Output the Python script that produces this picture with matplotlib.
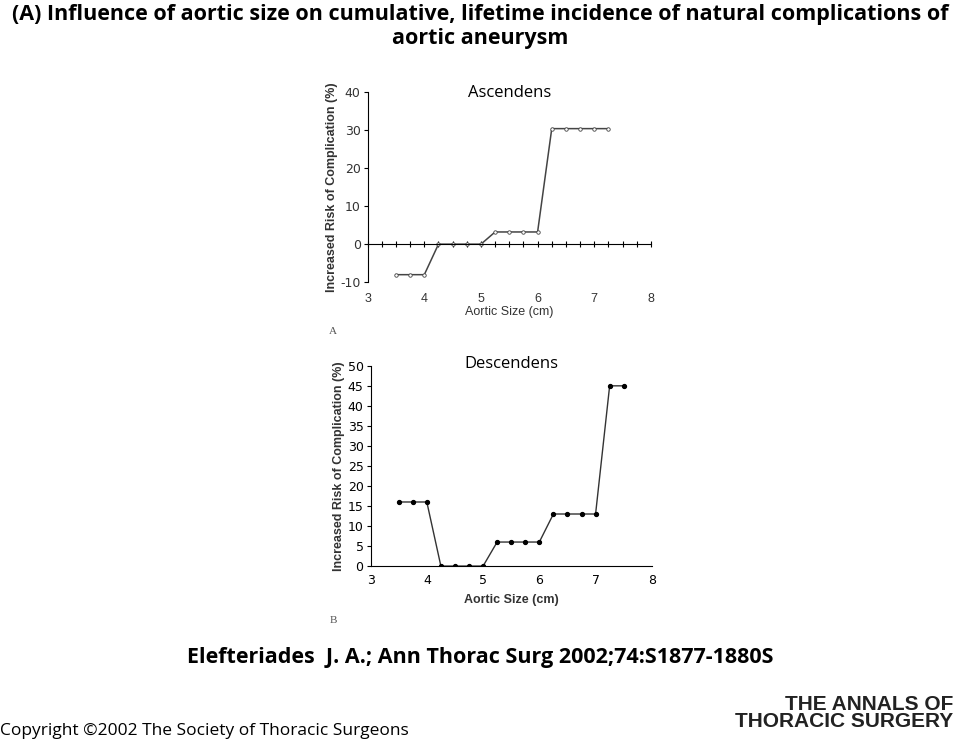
import matplotlib
matplotlib.use("Agg")
import matplotlib.pyplot as plt
import numpy as np

asc_x = [3.5, 3.75, 4.0, 4.25, 4.5, 4.75, 5.0, 5.25, 5.5, 5.75, 6.0, 6.25, 6.5, 6.75, 7.0, 7.25]
asc_y = [-8, -8, -8, 0, 0, 0, 0, 3.2, 3.2, 3.2, 3.2, 30.3, 30.3, 30.3, 30.3, 30.3]
desc_x = [3.5, 3.75, 4.0, 4.25, 4.5, 4.75, 5.0, 5.25, 5.5, 5.75, 6.0, 6.25, 6.5, 6.75, 7.0, 7.25, 7.5]
desc_y = [16, 16, 16, 0, 0, 0, 0, 6, 6, 6, 6, 13, 13, 13, 13, 45, 45]

plt.rcParams["axes.unicode_minus"] = False
fig = plt.figure(figsize=(9.6, 7.39), dpi=100)
fig.text(0.5, 0.995, "(A) Influence of aortic size on cumulative, lifetime incidence of natural complications of\naortic aneurysm",
         ha="center", va="top", fontsize=15.5, fontweight="bold", family="Open Sans", linespacing=1.2)

lab_kw = dict(fontsize=9, fontweight="bold", color="#333333", family="Liberation Sans")

# A
ax = fig.add_axes([0.383, 0.618, 0.295, 0.258])
ax.plot(asc_x, asc_y, color="#444444", lw=1.1, marker="o", ms=2.5, mfc="white", mec="#444444", mew=0.6)
ax.set_xlim(3, 8); ax.set_ylim(-10, 40)
ax.set_yticks([-10, 0, 10, 20, 30, 40])
for s in ["top", "right"]:
    ax.spines[s].set_visible(False)
ax.spines["bottom"].set_position(("data", 0))
ax.set_xticks(np.arange(3, 8.01, 0.25))
ax.tick_params(axis="x", direction="inout", length=5, labelbottom=False, width=0.8)
ax.tick_params(axis="y", labelsize=9, length=3, pad=2)
for t in ax.get_yticklabels():
    t.set_color("#333333")
for v in range(3, 9):
    ax.text(v, -0.055, str(v), transform=ax.get_xaxis_transform(), ha="center", va="top", fontsize=9, color="#333333", family="Liberation Sans")
ax.text(0.5, -0.125, "Aortic Size (cm)", transform=ax.transAxes, ha="center", va="top", fontsize=9, color="#333333", family="Liberation Sans")
ax.set_ylabel("Increased Risk of Complication (%)", labelpad=2, **lab_kw)
ax.text(0.5, 0.995, "Ascendens", transform=ax.transAxes, ha="center", va="center", fontsize=12, family="Open Sans")
fig.text(0.343, 0.548, "A", fontsize=8, family="Liberation Serif", color="#555555")

# B
bx = fig.add_axes([0.386, 0.234, 0.293, 0.271])
bx.plot(desc_x, desc_y, color="#333333", lw=1.0, marker="o", ms=2.8, mfc="black", mec="black")
bx.set_xlim(3, 8); bx.set_ylim(0, 50)
bx.set_yticks(np.arange(0, 51, 5))
bx.set_xticks(range(3, 9))
for s in ["top", "right"]:
    bx.spines[s].set_visible(False)
bx.tick_params(axis="x", length=0, labelsize=9, pad=6)
bx.tick_params(axis="y", labelsize=9, length=3, pad=2)
bx.set_xlabel("Aortic Size (cm)", labelpad=5, **lab_kw)
bx.set_ylabel("Increased Risk of Complication (%)", labelpad=2, **lab_kw)
bx.text(0.5, 1.01, "Descendens", transform=bx.transAxes, ha="center", va="center", fontsize=12, family="Open Sans")
fig.text(0.343, 0.157, "B", fontsize=8, family="Liberation Serif", color="#555555")

fig.text(0.5, 0.11, "Elefteriades  J. A.; Ann Thorac Surg 2002;74:S1877-1880S", ha="center", va="center",
         fontsize=15.5, fontweight="bold", family="Open Sans")
fig.text(0.0, 0.0, "Copyright \u00a92002 The Society of Thoracic Surgeons", ha="left", va="bottom", fontsize=12.5, family="Open Sans")
fig.text(0.993, 0.035, "THE ANNALS OF\nTHORACIC SURGERY", ha="right", va="center", fontsize=15,
         fontweight="bold", family=["Liberation Sans Narrow", "Liberation Sans"], color="#222222", linespacing=0.9)

fig.savefig("out.png", dpi=100)
